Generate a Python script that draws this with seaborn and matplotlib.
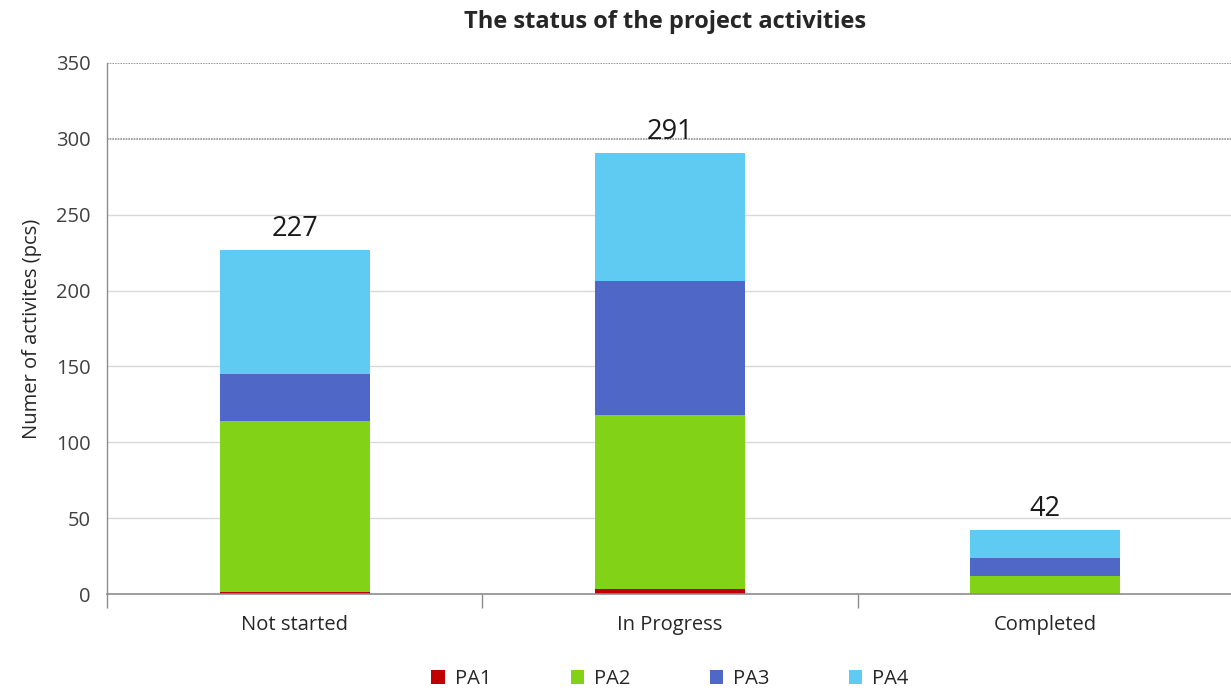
import matplotlib
matplotlib.use("Agg")
import matplotlib.pyplot as plt
import seaborn as sns
import numpy as np
from matplotlib.patches import Patch

categories = ["Not started", "In Progress", "Completed"]
series_names = ["PA1", "PA2", "PA3", "PA4"]
pa1 = [1, 3, 0]
pa2 = [113, 115, 12]
pa3 = [31, 88, 12]
pa4 = [82, 85, 18]
series_values = [pa1, pa2, pa3, pa4]
colors = ["#C00000", "#82D318", "#4F67C7", "#5FCBF2"]
totals = [227, 291, 42]
y_ticks = [0, 50, 100, 150, 200, 250, 300, 350]

sns.set_theme(style="white")
plt.rcParams["font.family"] = ["Open Sans", "DejaVu Sans"]

fig = plt.figure(figsize=(12.31, 6.9), dpi=100)
ax = fig.add_axes([107 / 1231, 96 / 690, 1126 / 1231, 531 / 690])

bottoms = np.zeros(len(categories))
for name, vals, col in zip(series_names, series_values, colors):
    sns.barplot(x=categories, y=vals, bottom=bottoms, color=col, width=0.4,
                ax=ax, label=name, saturation=1, linewidth=0)
    bottoms = bottoms + np.array(vals)

ax.set_xlim(-0.5, 2.5)
ax.set_ylim(0, 350)
ax.set_yticks(y_ticks)
ax.set_yticklabels([str(t) for t in y_ticks], fontsize=14.5, color="#404040")
ax.set_xticks(range(len(categories)))
ax.set_xticklabels(categories, fontsize=14.5, color="#262626")
ax.set_xticks([-0.5, 0.5, 1.5, 2.5], minor=True)
ax.tick_params(axis="x", which="major", length=0, pad=15)
ax.tick_params(axis="x", which="minor", length=10, color="#8c8c8c", width=1, direction="out")
ax.tick_params(axis="y", length=8, color="#d9d9d9", width=1, direction="out", pad=4)
ax.xaxis.set_tick_params(which="minor", bottom=True)

for t in y_ticks[1:]:
    if t >= 300:
        ax.axhline(t, color="#8f8f8f", lw=1.2, ls=(0, (1, 0.6)), zorder=0)
    else:
        ax.axhline(t, color="#d9d9d9", lw=1, zorder=0)

for s in ["top", "right"]:
    ax.spines[s].set_visible(False)
ax.spines["left"].set_color("#8c8c8c")
ax.spines["bottom"].set_color("#8c8c8c")
ax.spines["left"].set_linewidth(1)
ax.spines["bottom"].set_linewidth(1.2)

ax.set_ylabel("Numer of activites (pcs)", fontsize=14.5, color="#262626", labelpad=10)
ax.set_xlabel("")

for i, tot in enumerate(totals):
    ax.annotate(str(tot), xy=(i, tot), xytext=(0, 5), textcoords="offset points",
                ha="center", va="bottom", fontsize=19.5, color="#1a1a1a")

fig.text(665 / 1231, 1 - 22 / 690, "The status of the project activities",
         ha="center", va="center", fontsize=17, fontweight="bold", color="#262626")

if ax.get_legend() is not None:
    ax.get_legend().remove()
handles = [Patch(facecolor=c, edgecolor="none") for c in colors]
fig.legend(handles, series_names, loc="center", bbox_to_anchor=(670 / 1231, 1 - 679 / 690),
           ncol=4, frameon=False, fontsize=14.5, handlelength=0.65, handleheight=0.65,
           handletextpad=0.5, columnspacing=3.95, labelcolor="#262626")

fig.savefig("out.png", dpi=100)
